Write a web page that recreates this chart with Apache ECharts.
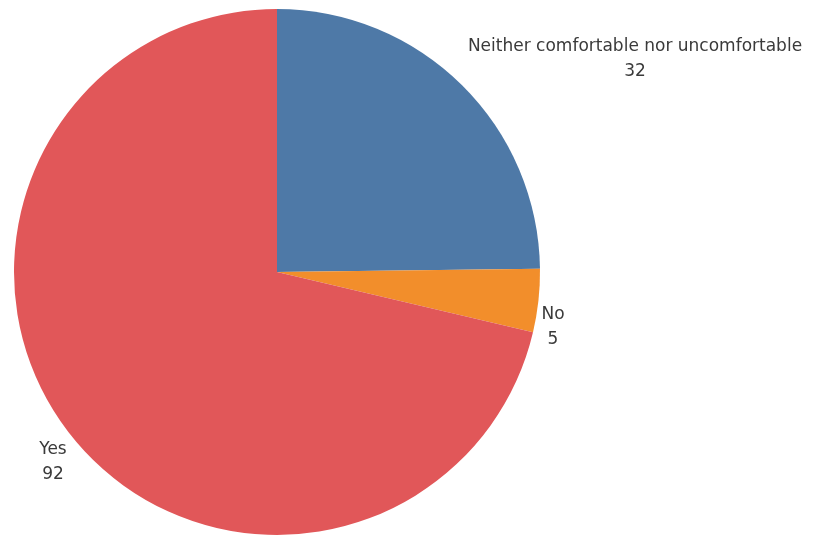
<!DOCTYPE html>
<html>
<head>
<meta charset="utf-8">
<style>
  html, body { margin: 0; padding: 0; background: #ffffff; }
  #chart { width: 813px; height: 536px; }
</style>
<script src="https://cdn.jsdelivr.net/npm/echarts@6/dist/echarts.min.js"></script>
</head>
<body>
<div id="chart"></div>
<script>
// Answers and their counts, in clockwise order from 12 o'clock
const categories = ['Neither comfortable nor uncomfortable', 'No', 'Yes'];
const counts = [32, 5, 92];
const colors = ['#4e79a7', '#f28e2b', '#e15759'];

// Label anchor points (centre of the two-line label block)
const labelAnchors = [[635, 59], [553, 327], [53, 462]];

const chart = echarts.init(document.getElementById('chart'));
chart.setOption({
  animation: false,
  series: [{
    type: 'pie',
    center: [277, 272],
    radius: [0, 263],
    startAngle: 90,
    clockwise: true,
    silent: true,
    data: categories.map((name, i) => ({
      name: name,
      value: counts[i],
      itemStyle: { color: colors[i] }
    })),
    label: {
      show: true,
      position: 'outside',
      formatter: '{b}\n{c}',
      fontFamily: 'DejaVu Sans',
      fontSize: 17,
      lineHeight: 25,
      color: '#3a3a3a',
      align: 'center',
      overflow: 'none',
      width: 400
    },
    labelLine: { show: false },
    labelLayout: function (params) {
      const p = labelAnchors[params.dataIndex];
      return { x: p[0], y: p[1], align: 'center', verticalAlign: 'middle' };
    }
  }]
});
</script>
</body>
</html>
